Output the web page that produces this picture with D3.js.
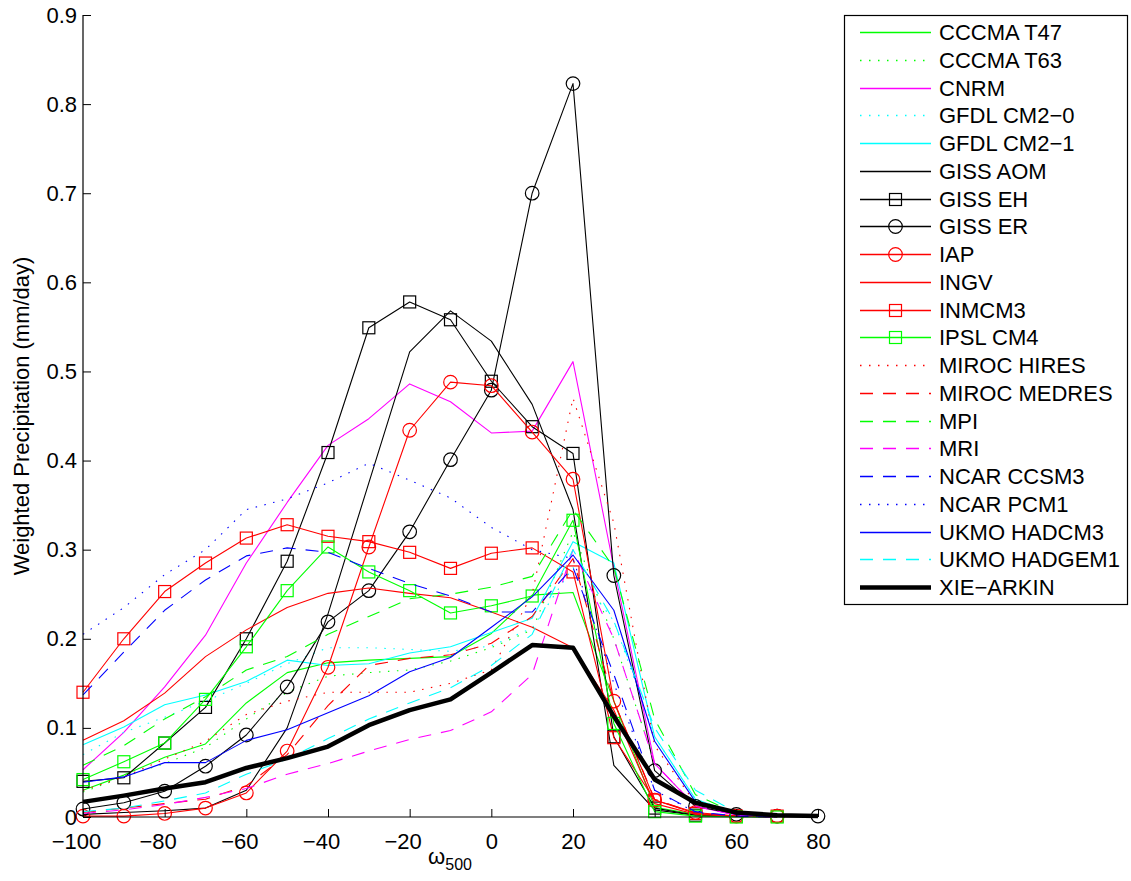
<!DOCTYPE html>
<html>
<head>
<meta charset="utf-8">
<script src="https://cdn.jsdelivr.net/npm/d3@7"></script>
<style>
  html, body { margin: 0; padding: 0; background: #fff; }
  text { font-family: "Liberation Sans", Arial, Helvetica, sans-serif; fill: #000; }
</style>
</head>
<body>
<svg id="chart" width="1131" height="881"></svg>
<script>
// ---------------- DATA ----------------
const omegaValues = [-100,-90,-80,-70,-60,-50,-40,-30,-20,-10,0,10,20,30,40,50,60,70,80];
const xTickValues = [-100,-80,-60,-40,-20,0,20,40,60,80];
const yTickValues = [0,0.1,0.2,0.3,0.4,0.5,0.6,0.7,0.8,0.9];

const cccmaT47    = [0.030,0.047,0.067,0.082,0.128,0.162,0.173,0.176,0.178,0.180,0.206,0.249,0.252,0.130,0.011,0.003,0.001,0.000,null];
const cccmaT63    = [0.028,0.045,0.060,0.078,0.110,0.140,0.158,0.162,0.165,0.175,0.190,0.210,0.320,0.200,0.060,0.012,0.002,0.000,null];
const cnrm        = [0.053,0.095,0.146,0.204,0.285,0.353,0.417,0.447,0.486,0.466,0.431,0.433,0.511,0.280,0.060,0.012,0.002,0.000,null];
const gfdlCm20    = [0.070,0.095,0.112,0.130,0.150,0.172,0.190,0.190,0.188,0.186,0.192,0.212,0.280,0.220,0.090,0.020,0.004,0.001,null];
const gfdlCm21    = [0.081,0.101,0.126,0.137,0.152,0.176,0.170,0.172,0.184,0.191,0.207,0.223,0.309,0.285,0.090,0.020,0.004,0.001,null];
const gissAom     = [0.003,0.005,0.007,0.010,0.030,0.100,0.228,0.375,0.522,0.568,0.534,0.463,0.345,0.058,0.008,0.002,0.001,0.000,null];
const gissEh      = [0.040,0.044,0.083,0.123,0.200,0.287,0.409,0.549,0.578,0.558,0.489,0.438,0.408,0.090,0.010,0.002,null,null,null];
const gissEr      = [0.009,0.016,0.029,0.057,0.092,0.146,0.219,0.254,0.320,0.401,0.479,0.700,0.823,0.271,0.052,0.012,0.003,0.001,0.001];
const iap         = [0.001,0.001,0.004,0.010,0.027,0.074,0.168,0.303,0.434,0.488,0.484,0.432,0.379,0.130,0.019,0.005,0.001,0.001,null];
const ingv        = [0.086,0.108,0.139,0.180,0.210,0.235,0.251,0.257,0.251,0.246,0.230,0.213,0.190,0.120,0.015,0.003,0.001,0.000,null];
const inmcm3      = [0.140,0.200,0.253,0.285,0.313,0.328,0.315,0.309,0.297,0.279,0.296,0.302,0.275,0.089,0.019,0.004,0.001,0.001,null];
const ipslCm4     = [0.042,0.062,0.083,0.132,0.191,0.254,0.303,0.275,0.254,0.229,0.237,0.248,0.333,0.105,0.006,0.001,0.000,0.000,null];
const mirocHires  = [0.030,0.045,0.065,0.085,0.115,0.130,0.140,0.140,0.140,0.150,0.165,0.250,0.470,0.330,0.080,0.015,0.003,0.001,null];
const mirocMedres = [0.005,0.010,0.015,0.020,0.035,0.070,0.125,0.170,0.178,0.182,0.195,0.225,0.290,0.130,0.020,0.004,0.001,0.000,null];
const mpi         = [0.058,0.080,0.110,0.135,0.165,0.180,0.205,0.225,0.245,0.250,0.258,0.270,0.345,0.280,0.110,0.025,0.004,0.001,null];
const mri         = [0.004,0.008,0.014,0.022,0.032,0.048,0.060,0.074,0.087,0.097,0.118,0.160,0.300,0.200,0.060,0.012,0.002,0.000,null];
const ncarCcsm3   = [0.137,0.185,0.232,0.266,0.293,0.302,0.297,0.279,0.262,0.248,0.230,0.230,0.280,0.160,0.030,0.006,0.001,0.000,null];
const ncarPcm1    = [0.205,0.235,0.272,0.300,0.345,0.357,0.375,0.397,0.378,0.358,0.325,0.300,0.290,0.150,0.030,0.005,0.001,0.000,null];
const ukmoHadcm3  = [0.039,0.045,0.061,0.061,0.086,0.098,0.117,0.136,0.163,0.179,0.213,0.247,0.294,0.232,0.085,0.017,0.003,0.001,null];
const ukmoHadgem1 = [0.006,0.010,0.018,0.027,0.048,0.065,0.088,0.110,0.128,0.145,0.170,0.205,0.300,0.220,0.100,0.030,0.005,0.001,null];
const xieArkin    = [0.017,0.024,0.032,0.039,0.055,0.066,0.079,0.103,0.120,0.132,0.162,0.193,0.190,0.113,0.042,0.016,0.005,0.002,0.001];

const seriesNames = ["CCCMA T47","CCCMA T63","CNRM","GFDL CM2\u22120","GFDL CM2\u22121","GISS AOM","GISS EH","GISS ER","IAP","INGV","INMCM3","IPSL CM4","MIROC HIRES","MIROC MEDRES","MPI","MRI","NCAR CCSM3","NCAR PCM1","UKMO HADCM3","UKMO HADGEM1","XIE\u2212ARKIN"];
const seriesValues = [cccmaT47,cccmaT63,cnrm,gfdlCm20,gfdlCm21,gissAom,gissEh,gissEr,iap,ingv,inmcm3,ipslCm4,mirocHires,mirocMedres,mpi,mri,ncarCcsm3,ncarPcm1,ukmoHadcm3,ukmoHadgem1,xieArkin];

// ---------------- STYLES ----------------
const DOT = "1.5,7.5", DASH = "13,10";
const seriesStyles = [
  {c:"#00ff00", d:null}, {c:"#00ff00", d:DOT}, {c:"#ff00ff", d:null}, {c:"#00ffff", d:DOT},
  {c:"#00ffff", d:null}, {c:"#000000", d:null}, {c:"#000000", d:null, m:"square"}, {c:"#000000", d:null, m:"circle"},
  {c:"#ff0000", d:null, m:"circle"}, {c:"#ff0000", d:null}, {c:"#ff0000", d:null, m:"square"}, {c:"#00ff00", d:null, m:"square"},
  {c:"#ff0000", d:DOT}, {c:"#ff0000", d:DASH}, {c:"#00ff00", d:DASH}, {c:"#ff00ff", d:DASH},
  {c:"#0000ff", d:DASH}, {c:"#0000ff", d:DOT}, {c:"#0000ff", d:null}, {c:"#00ffff", d:DASH},
  {c:"#000000", d:null, w:4.5}
];

// ---------------- CHART ----------------
const svg = d3.select("#chart");
svg.append("rect").attr("width",1131).attr("height",881).attr("fill","#fff");

const x = d3.scaleLinear().domain([-100, 80]).range([83, 818]);
const y = d3.scaleLinear().domain([0, 0.9]).range([817, 15]);

const plot = svg.append("g");
const line = d3.line().defined(d => d[1] != null).x(d => x(d[0])).y(d => y(d[1]));

function drawMarker(g, type, cx, cy, color) {
  if (type === "square") {
    g.append("rect").attr("x", cx-6).attr("y", cy-6).attr("width",12).attr("height",12)
      .attr("fill","none").attr("stroke",color).attr("stroke-width",1.2);
  } else if (type === "circle") {
    g.append("circle").attr("cx",cx).attr("cy",cy).attr("r",6.8)
      .attr("fill","none").attr("stroke",color).attr("stroke-width",1.2);
  }
}

seriesValues.forEach((vals, i) => {
  const st = seriesStyles[i];
  const pts = omegaValues.map((o, j) => [o, vals[j]]);
  const g = plot.append("g");
  const p = g.append("path").datum(pts).attr("d", line).attr("fill","none")
    .attr("stroke", st.c).attr("stroke-width", st.w || 1.1).attr("stroke-linejoin","round");
  if (st.d) p.attr("stroke-dasharray", st.d);
  if (st.m) {
    pts.filter(q => q[1] != null).forEach(q => drawMarker(g, st.m, x(q[0]), y(q[1]), st.c));
  }
});

// ---------------- AXES ----------------
const fmtX = v => (v < 0 ? "\u2212" + Math.abs(v) : String(v));
const xAxis = d3.axisBottom(x).tickValues(xTickValues).tickSize(-8).tickPadding(16).tickFormat(fmtX);
const gx = svg.append("g").attr("transform","translate(0,817)").call(xAxis);
gx.select(".domain").attr("d", "M83,0H818").attr("stroke","#000").attr("stroke-width",1.2);
gx.selectAll(".tick line").attr("stroke","#000");
gx.selectAll(".tick text").attr("font-size","22px").attr("font-family","Liberation Sans, Arial, sans-serif")
  .attr("dx", d => d < 0 ? -7 : 0);

const yAxis = d3.axisLeft(y).tickValues(yTickValues).tickSize(-8).tickPadding(6).tickFormat(v => v === 0 ? "0" : d3.format(".1f")(v));
const gy = svg.append("g").attr("transform","translate(83,0)").call(yAxis);
gy.select(".domain").attr("d", "M0,15V817").attr("stroke","#000").attr("stroke-width",1.2);
gy.selectAll(".tick line").attr("stroke","#000");
gy.selectAll(".tick text").attr("font-size","22px").attr("font-family","Liberation Sans, Arial, sans-serif");

// axis labels
svg.append("text").attr("transform","translate(29,416) rotate(-90)").attr("text-anchor","middle")
  .attr("font-size","22px").text("Weighted Precipitation (mm/day)");
const xl = svg.append("text").attr("x", 450).attr("y", 864).attr("text-anchor","middle").attr("font-size","22px");
xl.append("tspan").text("\u03c9");
xl.append("tspan").attr("font-size","16px").attr("dy", 6).text("500");

// ---------------- LEGEND ----------------
const legend = svg.append("g");
legend.append("rect").attr("x",844.5).attr("y",15.5).attr("width",283).attr("height",589)
  .attr("fill","#fff").attr("stroke","#000").attr("stroke-width",1.2);
seriesNames.forEach((name, i) => {
  const st = seriesStyles[i];
  const cy = Math.round(32 + i * 27.75) + 0.5;
  const g = legend.append("g");
  const ln = g.append("line").attr("x1",860).attr("x2",931).attr("y1",cy).attr("y2",cy)
    .attr("stroke", st.c).attr("stroke-width", st.w || 1.3);
  if (st.d) ln.attr("stroke-dasharray", st.d);
  if (st.m) drawMarker(g, st.m, 895.5, cy, st.c);
  g.append("text").attr("x",939).attr("y",cy).attr("dy","0.36em").attr("font-size","22px").text(name);
});
</script>
</body>
</html>
